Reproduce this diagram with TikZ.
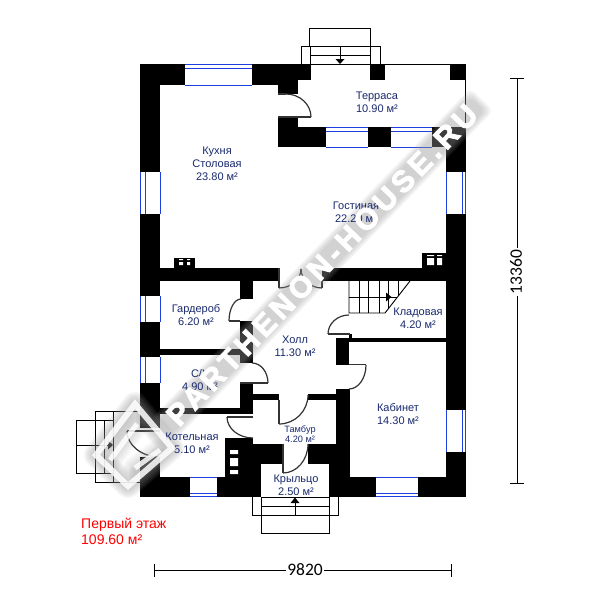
\documentclass[tikz,border=0pt]{standalone}
\usepackage{fontspec}
\setmainfont{Liberation Sans}
\newfontfamily\dimfont{Carlito}
\newfontfamily\wmfont[LetterSpace=15,FakeBold=3]{Liberation Sans Bold}
\usetikzlibrary{calc}
\definecolor{navy}{HTML}{1A2A6E}
\definecolor{winblue}{HTML}{1E3FE0}
\definecolor{doorgray}{HTML}{333333}
\definecolor{halo}{HTML}{989898}
\tikzset{
  wall/.style={fill=black,draw=none},
  thin line/.style={draw=black,line width=0.9pt},
  glass/.style={draw=winblue,line width=0.9pt},
  door/.style={draw=doorgray,line width=1.2pt},
  room/.style={text=navy,align=center,inner sep=0pt,font=\fontsize{11}{13}\selectfont},
  small room/.style={text=navy,align=center,inner sep=0pt,font=\fontsize{9.2}{10.5}\selectfont},
  floor title/.style={text=red,align=left,anchor=west,inner sep=0pt,font=\fontsize{14}{16}\selectfont},
  dim/.style={fill=white,inner sep=1.5pt,font=\dimfont\fontsize{17.5}{18}\selectfont},
  wm/.style={rotate=46,inner sep=0pt,text=white,font=\wmfont\fontsize{30}{30}\selectfont},
}
\newcommand{\W}[4]{\fill[wall] (#1,#2) rectangle (#3,#4);}
\newcommand{\Hwin}[5]{\fill[white] (#1,#3) rectangle (#2,#5);
  \draw[glass] (#1,#3) -- (#2,#3) (#1,#4) -- (#2,#4) (#1,#5) -- (#2,#5);}
\newcommand{\Vwin}[5]{\fill[white] (#3,#1) rectangle (#5,#2);
  \draw[glass] (#3,#1) -- (#3,#2) (#4,#1) -- (#4,#2) (#5,#1) -- (#5,#2);}
% door swing: start, corner, end
\newcommand{\Sw}[6]{\draw[door] (#1,#2) .. controls ($(#1,#2)!.55!(#3,#4)$) and ($(#5,#6)!.55!(#3,#4)$) .. (#5,#6);}
\begin{document}
\begin{tikzpicture}[x=1pt,y=-1pt]
\useasboundingbox (0,0) rectangle (600,600);
\fill[white] (0,0) rectangle (600,600);

% ---- steps
\draw[thin line] (309,46) -- (309,28) -- (370,28) -- (370,64);
\draw[thin line] (301,64) -- (301,46) -- (380,46) -- (380,64);
\draw[thin line] (310,46) -- (310,64) (310,55) -- (370,55) (311,64) -- (450,64);
\draw[thin line] (465.6,80) -- (465.6,127);
\draw[thin line] (340,46) -- (340,60);
\fill[black] (335.5,59) -- (344.5,59) -- (340,64) -- cycle;

\draw[thin line] (140,411) -- (95,411) -- (95,482) -- (140,482);
\draw[thin line] (95,420) -- (76,420) -- (76,473) -- (113,473);
\draw[thin line] (95,420) -- (113,420) (104,420) -- (104,473) (113,411) -- (113,482);
\draw[thin line] (76,445) -- (108,445);
\fill[black] (108,440.5) -- (108,449.5) -- (113,445) -- cycle;

\draw[thin line] (252,497) -- (252,515) -- (338,515) -- (338,497);
\draw[thin line] (261,497) -- (261,533) -- (329,533) -- (329,497);
\draw[thin line] (261,506) -- (329,506) (261,497) -- (329,497);
\draw[thin line] (295,515) -- (295,503);
\fill[black] (290.5,503) -- (299.5,503) -- (295,497.5) -- cycle;

% ---- walls
\W{140}{64}{185}{85}
\W{252}{64}{311}{80}
\W{252}{80}{298}{85}
\W{278}{85}{298}{94}
\W{278}{117}{298}{127}
\W{278}{127}{326}{147}
\W{368}{127}{391}{147}
\W{432}{127}{466}{147}
\W{370}{64}{385}{80}
\W{450}{64}{466}{80}
\W{140}{64}{160}{172}
\W{446}{127}{466}{172}
\W{140}{214}{160}{296}
\W{446}{214}{466}{410}
\W{140}{322}{160}{357}
\W{140}{383}{160}{428}
\W{140}{457}{160}{497}
\W{446}{452}{466}{497}
\W{140}{477}{190}{497}
\W{217}{477}{261}{497}
\W{329}{477}{376}{497}
\W{418}{477}{466}{497}
\W{160}{268}{279}{281}
\W{322}{268}{446}{281}
\W{174}{258}{195}{268}
\W{422}{253}{446}{268}
\W{240}{281}{253}{299}
\W{240}{321}{253}{363}
\W{160}{349}{253}{355}
\W{240}{383}{253}{414}
\W{160}{408}{253}{414}
\W{253}{394}{279}{400}
\W{308}{394}{349}{400}
\W{336}{389}{350}{497}
\W{336}{338}{349}{365}
\W{349}{338}{446}{342}
\W{349}{334}{352}{338}
\W{225}{438}{253}{477}
\W{253}{444}{283}{477}
\W{308}{444}{336}{477}
\W{261}{464}{336}{477}
\fill[white] (261,464) rectangle (329,497);
\fill[white] (283,444) rectangle (308,464);

% ---- flue openings
\fill[white] (427,258) rectangle (434,265) (437,258) rectangle (442,265)
  (427,255) rectangle (434,256) (437,255) rectangle (442,256);
\fill[white] (179,262) rectangle (183,265) (187,262) rectangle (190,265)
  (179,259) rectangle (183,260) (187,259) rectangle (190,260);
\fill[white] (230,450) rectangle (238,454) (230,458) rectangle (238,466) (230,470) rectangle (238,474);

% ---- windows
\Hwin{185}{252}{64.5}{68.7}{85}
\Hwin{326}{368}{127}{131}{147}
\Hwin{391}{432}{127}{131}{147}
\Hwin{190}{217}{477}{493}{496.5}
\Hwin{376}{418}{477}{493}{496.5}
\Vwin{172}{214}{140.5}{145}{160}
\Vwin{296}{322}{140.5}{145}{160}
\Vwin{357}{383}{140.5}{145}{160}
\Vwin{172}{214}{446}{462}{465.6}
\Vwin{410}{452}{446}{462}{465.6}

% ---- stair to upper floor
\draw[thin line] (349,281) -- (349,313) -- (385,313) -- (410,281);
\draw[thin line] (349,297) -- (397,297);
\draw[thin line] (359,281) -- (359,313) (368.5,281) -- (368.5,313) (379,281) -- (379,313)
  (388,281) -- (388,309) (398,281) -- (398,296);
\fill[black] (386,292.5) -- (386,301.5) -- (391.5,297) -- cycle;

% ---- doors
\draw[door] (278,94) -- (286,94) (278,117) -- (311,117);
\Sw{286}{94}{311}{94}{311}{117}
\draw[door] (279,268) -- (279,288) (322,281) -- (322,288);
\Sw{279}{288}{301}{288}{301}{269}
\Sw{301}{269}{301}{288}{322}{288}
\draw[door] (229,321) -- (240,321);
\Sw{241}{299}{229}{299}{229}{321}
\draw[door] (240,383) -- (268,383);
\Sw{252}{363}{268}{363}{268}{383}
\draw[door] (279,400) -- (279,424);
\Sw{308}{395}{308}{424}{279}{424}
\draw[door] (283,444) -- (283,473);
\Sw{308}{444}{308}{473}{283}{473}
\draw[door] (227,417) -- (253,417);
\Sw{253}{438}{227}{438}{227}{417}
\draw[door] (127,431) -- (160,431);
\Sw{127}{431}{127}{457}{160}{457}
\draw[door] (328,334) -- (350,334);
\Sw{349}{315}{328}{315}{328}{334}
\draw[door] (349,364.5) -- (366,364.5);
\Sw{366}{365}{366}{389}{349}{389}

% ---- watermark: soft halo, then white lettering and emblem
\begin{scope}[shift={(322,265)},rotate=46]
  \foreach \g in {0,1.5,...,6}{
    \fill[halo,opacity=0.10,rounded corners=6pt]
      ({-224-\g},{-10-\g}) rectangle ({224+\g},{10+\g});
  }
\end{scope}
\foreach \w in {24,21,18,15,12,9}{
  \draw[halo,opacity=0.09,line width=\w pt,line join=round,line cap=round]
    (96,455) -- (135,404) -- (172,448) (172,448) -- (128,486) -- (96,455);
  \draw[halo,opacity=0.05,line width=\w pt,line join=round,line cap=round]
    (110,460) -- (137,424) (160,450) -- (135,468);
}

% ---- rooms whose labels lie clear of the lettering sit above the halo
\node[room] (kitchen) at (217,164) {Кухня\\Столовая\\23.80 м²};
\node[room] (terrace) at (377,102) {Терраса\\10.90 м²};
\node[room] (living) at (356,212) {Гостиная\\22.20 м²};
\node[room] (wardrobe) at (196,315) {Гардероб\\6.20 м²};
\node[room] (hall) at (295,346) {Холл\\11.30 м²};
\node[room] (wc) at (200,380) {С/У\\4.90 м²};
\node[room] (boiler) at (192,443) {Котельная\\5.10 м²};
\node[room] (storage) at (418,318) {Кладовая\\4.20 м²};
\node[room] (study) at (398,414) {Кабинет\\14.30 м²};
\node[small room] (vestibule) at (300,434) {Тамбур\\4.20 м²};
\node[room] (porch) at (296,485) {Крыльцо\\2.50 м²};
\node[floor title] (title) at (81,531) {Первый этаж\\109.60 м²};

% ---- dimensions
\coordinate (dt) at (517,78); \coordinate (db) at (517,483);
\coordinate (dl) at (154,570); \coordinate (dr) at (451,570);
\draw[thin line] (dt) -- (db) ($(dt)+(-7,0)$) -- ($(dt)+(7,0)$) ($(db)+(-7,0)$) -- ($(db)+(7,0)$);
\draw[thin line] (dl) -- (dr) ($(dl)+(0,-6.5)$) -- ($(dl)+(0,6.5)$) ($(dr)+(0,-6.5)$) -- ($(dr)+(0,6.5)$);
\node[dim,rotate=90] (dimh) at (516,272) {13360};
\node[dim] (dimw) at (305,570) {9820};

\node[wm] (wmt) at (322,265) {PARTHENON-HOUSE.RU};
\draw[line width=6pt,white,opacity=0.85,line join=miter]
  (96,455) -- (135,404) -- (172,448) -- (128,486) -- cycle;
\draw[line width=5pt,white,opacity=0.85]
  (110,460) -- (137,424) (160,450) -- (135,468);
\end{tikzpicture}
\end{document}
